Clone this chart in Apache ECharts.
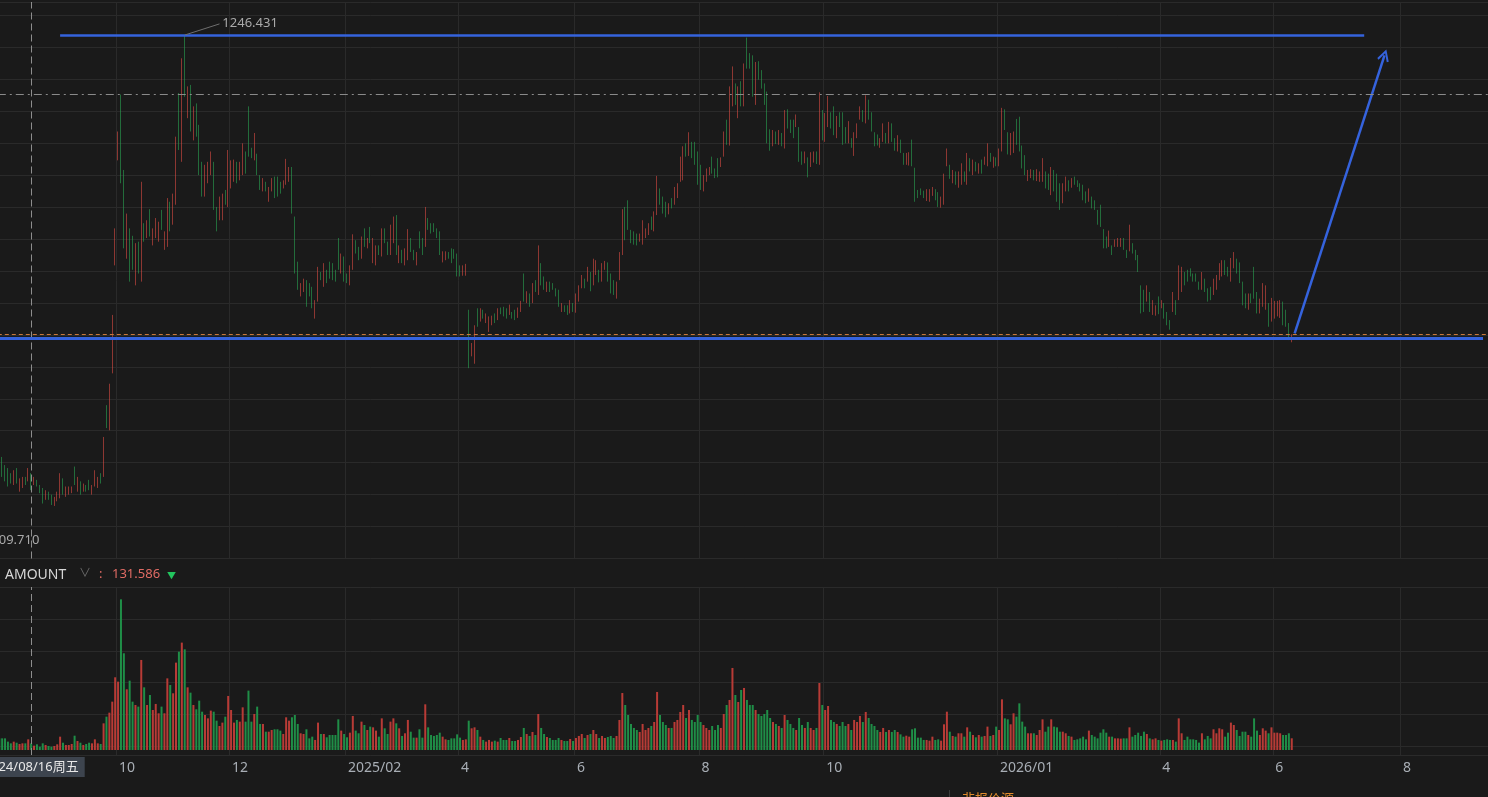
<!DOCTYPE html>
<html>
<head>
<meta charset="utf-8">
<script src="https://cdn.jsdelivr.net/npm/echarts@6/dist/echarts.min.js"></script>
<style>
html,body{margin:0;padding:0;background:#1a1a1a;overflow:hidden;width:1488px;height:797px}
#c{position:absolute;left:-10px;top:0;width:1502px;height:797px}
</style>
</head>
<body>
<div id="c"></div>
<script>
// ---------- categories (trading days) ----------
const firstDay = '2024-08-01';
const lastDay = '2026-09-14';
const holidays = [
  '2024-09-16','2024-09-17','2024-10-01','2024-10-02','2024-10-03','2024-10-04','2024-10-07',
  '2025-01-01','2025-01-28','2025-01-29','2025-01-30','2025-01-31','2025-02-03','2025-02-04',
  '2025-04-04','2025-05-01','2025-05-02','2025-05-05','2025-06-02',
  '2025-10-01','2025-10-02','2025-10-03','2025-10-06','2025-10-07','2025-10-08',
  '2026-01-01','2026-01-02','2026-02-16','2026-02-17','2026-02-18','2026-02-19','2026-02-20','2026-02-23',
  '2026-04-06','2026-05-01','2026-05-04','2026-05-05','2026-06-19'
];
// ---------- tick labels ----------
const tickDates = ['2024-10-08','2024-12-02','2025-02-05','2025-04-01','2025-06-03','2025-08-01','2025-10-09','2026-01-05','2026-04-01','2026-06-01','2026-08-03'];
const tickLabels = ['10','12','2025/02','4','6','8','10','2026/01','4','6','8'];

// ---------- series values ----------
const opens = [
681,676,665,661,654,638,661,629,634,649,
643,654,638,645,638,634,618,629,625,609.71,
616,620,647,622,625,627,663,629,643,629,
638,645,625,636,634,654,649,746,712,789,
935,1077,1166,1064,944,985,975,908,967,913,
992,972,1011,962,972,967,1010,956,960,1021,
990,1017,1168,1075,1246.431,1134,1179,1104,1154,1125,
1075,1028,1046,1057,1075,1014,996,996,1037,1014,
1039,1048,1075,1050,1057,1089,1150,1094,1077,1086,
1057,1035,1048,1021,1035,1055,1055,1048,1039,1044,
1048,1068,1001,940,893,899,915,911,906,863,
886,926,906,929,940,938,929,972,924,947,
924,908,929,969,960,944,985,958,987,938,
935,962,947,985,967,949,965,1003,938,956,
935,942,972,956,935,981,972,960,999,992,
992,985,981,939,942,953,958,957,951,935,
921,921,875,812,802,877,859,875,857,845,
854,870,861,878,879,877,868,872,875,864,
872,924,884,897,884,915,895,938,920,899,
913,911,904,902,872,881,881,870,884,871,
886,904,917,913,926,908,922,929,913,929,
939,924,915,890,915,949,1014,1023,983,981,
978,967,963,972,976,1001,981,1003,1039,1028,
1021,1004,1026,1017,1026,1048,1050,1100,1083,1102,
1102,1089,1071,1035,1048,1057,1082,1066,1080,1068,
1082,1132,1097,1150,1181,1134,1184,1150,1243,1222,
1219,1152,1211,1199,1181,1170,1119,1096,1116,1098,
1114,1093,1146,1132,1132,1122,1122,1089,1073,1081,
1068,1074,1089,1071,1145,1102,1122,1142,1150,1107,
1142,1142,1122,1100,1107,1083,1107,1132,1145,1127,
1159,1142,1115,1112,1094,1102,1114,1100,1127,1107,
1089,1105,1087,1071,1070,1105,1067,1037,1039,1036,
1022,1021,1029,1038,1034,1013,1017,1069,1071,1046,
1062,1040,1044,1062,1044,1080,1057,1075,1059,1078,
1071,1069,1087,1067,1081,1069,1089,1146,1115,1084,
1087,1133,1136,1097,1084,1049,1053,1064,1049,1048,
1048,1062,1059,1030,1064,1059,1046,1019,1035,1050,
1040,1055,1050,1046,1044,1035,1021,1028,1023,1010,
1017,984,974,960,962,960,960,960,972,956,
954,965,956,949,908,902,886,899,868,867,
893,877,884,872,861,872,888,888,899,926,
929,931,924,924,913,902,917,904,906,895,
902,915,920,942,933,913,931,944,939,913,
897,875,897,933,899,870,879,875,884,859,
863,866,864,886,875,857,831
];
const closes = [
658,649,643,636,640,658,640,647,649,638,
661,631,649,636,627,613,631,618,611,622,
629,654,625,636,636,636,638,649,625,640,
629,631,638,658,649,640,703,715,775,868,
985,1116,1046,958,1005,913,929,965,924,1048,
967,996,974,985,999,994,983,981,1026,981,
1032,1109,1091,1215,1163,1177,1116,1150,1109,1057,
1028,1071,1075,1089,1010,981,1028,1032,1017,1091,
1077,1078,1046,1075,1100,1059,1082,1080,1114,1057,
1037,1053,1035,1041,1053,1026,1028,1032,1050,1079,
1068,1005,924,902,911,917,879,893,877,888,
933,915,938,911,917,915,913,929,951,913,
911,935,977,951,942,974,960,972,965,972,
962,949,985,965,949,990,1001,949,962,938,
958,984,953,942,953,958,949,1014,983,978,
980,972,949,954,954,944,938,944,920,920,
935,937,796,830,854,852,877,863,870,866,
867,857,877,869,866,863,882,863,861,878,
887,886,900,879,911,899,962,908,902,913,
899,902,893,879,884,872,868,888,872,897,
908,922,904,933,900,944,942,912,938,941,
913,897,895,913,953,1011,969,983,965,963,
962,978,996,985,992,983,1008,1056,1017,1005,
1000,1019,1012,1041,1046,1082,1096,1082,1115,1080,
1071,1044,1037,1057,1066,1068,1059,1053,1054,1081,
1116,1098,1177,1204,1152,1177,1150,1208,1201,1201,
1163,1210,1186,1174,1152,1100,1090,1118,1099,1118,
1096,1145,1120,1114,1107,1139,1075,1071,1089,1054,
1088,1089,1072,1169,1104,1141,1164,1120,1111,1137,
1122,1098,1100,1130,1094,1115,1127,1150,1129,1165,
1132,1116,1096,1097,1107,1127,1100,1129,1102,1090,
1111,1087,1071,1087,1088,1069,1021,1026,1030,1026,
1038,1038,1041,1023,1014,1028,1059,1093,1052,1064,
1044,1062,1073,1048,1087,1062,1078,1062,1073,1059,
1082,1100,1075,1082,1069,1093,1148,1118,1085,1114,
1116,1098,1089,1066,1057,1064,1065,1050,1065,1062,
1080,1039,1037,1068,1035,1021,1010,1046,1055,1035,
1053,1044,1041,1035,1023,1019,1039,1012,1010,990,
987,958,958,982,949,970,972,972,956,945,
990,951,942,926,870,872,908,872,888,881,
869,888,863,854,848,899,868,935,933,908,
913,920,913,913,902,926,899,886,888,917,
922,938,942,922,920,945,953,924,911,881,
877,897,884,890,870,890,911,908,852,891,
887,887,888,854,852,834,842
];
const amounts = [
131,131,131,94,75,94,82,68,75,75,
120,75,49,64,37,75,56,45,37,45,
64,150,82,56,56,68,161,101,82,56,
68,82,75,120,75,68,300,375,420,544,
818,769,1695,1088,683,780,544,506,488,1013,
705,506,619,450,518,413,488,413,806,731,
638,983,1106,1208,1133,705,645,506,458,555,
431,394,356,443,431,330,270,308,375,608,
450,308,338,319,480,319,668,319,405,488,
293,293,206,206,225,233,233,218,180,368,
330,368,394,293,188,180,233,131,150,113,
308,180,180,143,169,169,169,345,218,180,
143,195,383,218,188,319,281,225,263,255,
218,150,356,244,180,319,356,300,244,158,
188,338,206,139,139,233,139,514,255,169,
158,169,195,150,120,113,131,131,176,139,
113,120,330,244,255,225,150,113,94,113,
94,105,94,135,113,113,135,101,101,113,
146,248,180,158,203,169,405,248,180,146,
135,113,113,135,113,101,101,124,101,135,
158,180,135,169,180,225,180,135,158,135,
146,158,135,158,338,641,506,394,293,248,
225,203,293,225,248,270,315,653,394,315,
281,248,248,315,338,428,506,360,450,338,
315,394,315,281,248,225,270,225,281,248,
405,506,563,923,619,540,675,698,563,506,
506,450,405,383,405,450,360,315,293,270,
248,394,338,293,248,225,360,281,248,315,
248,225,248,754,506,450,495,338,315,293,
270,315,270,293,225,338,315,383,315,428,
360,293,270,225,203,248,203,225,203,225,
203,176,150,161,150,233,244,139,139,113,
113,105,150,113,120,105,289,431,206,158,
150,188,188,150,255,206,169,143,169,150,
158,263,158,169,263,225,570,356,345,289,
413,375,525,319,263,188,188,188,169,225,
345,206,263,345,263,255,206,206,188,158,
150,113,120,131,150,120,218,169,150,131,
195,233,195,150,150,131,131,128,131,131,
255,150,169,195,158,206,180,131,120,131,
113,105,113,120,113,113,94,356,188,113,
150,120,120,113,83,188,120,158,131,233,
188,244,233,150,195,308,281,225,158,206,
206,169,150,356,218,169,244,218,188,255,
195,195,188,169,169,188,131.586
];

// ---------- annotations (data coordinates) ----------
const crossDate = '2024-08-16';
const resistance = {from: '2024-08-30', to: '2026-07-15', price: 1246.431};
const support = {from: '2024-08-01', to: '2026-09-10', price: 836.3};
const arrowLine = {from: ['2026-06-10', 843], to: ['2026-07-24', 1219]};
const guideLevel = 1166.3;
const peakNote = {at: ['2024-11-08', 1246.431], tail: ['2024-11-26', 1261.5], text: '1246.431'};
const lowNote = {at: ['2024-08-28', 609.71], text: '609.710'};

// ---------- build ----------
function tradingDays(start, end, hol) {
  const hs = new Set(hol), out = [];
  const d = new Date(start + 'T00:00:00Z'), e = new Date(end + 'T00:00:00Z');
  while (d <= e) {
    const wd = d.getUTCDay(), s = d.toISOString().slice(0, 10);
    if (wd !== 0 && wd !== 6 && !hs.has(s)) out.push(s);
    d.setUTCDate(d.getUTCDate() + 1);
  }
  return out;
}
const dates = tradingDays(firstDay, lastDay, holidays);
const tickMap = {};
tickDates.forEach((d, i) => { tickMap[d] = tickLabels[i]; });
const isTick = (idx, val) => tickMap[val] !== undefined;

const UP = '#dc4b43', DOWN = '#2aa553', VUP = '#b83b36', VDOWN = '#1f8e47';
const GRID = '#2a2a2a', BLUE = '#3563dd';
const FONT = '"Noto Sans", "Noto Sans CJK SC", sans-serif';

const candles = opens.map((o, i) => [o, closes[i], Math.min(o, closes[i]), Math.max(o, closes[i])]);
const volData = amounts.map((v, i) => ({value: v, itemStyle: {color: closes[i] >= opens[i] ? VUP : VDOWN}}));
const lastAmount = amounts[amounts.length - 1];
const lastClose = closes[closes.length - 1];
const wk = ['周日','周一','周二','周三','周四','周五','周六'][new Date(crossDate + 'T00:00:00Z').getUTCDay()];
const crossText = crossDate.replace(/-/g, '/') + wk;
const crossStyle = {color: '#8e8e8e', width: 1, type: [7, 4]};

// the canvas is shifted 10px left of the page so the first candle can sit at the page edge
const shift = 10;
const bandPx = 2.898;
const gridLeft = shift - 2.2;
const gridWidth = dates.length * bandPx;

const chart = echarts.init(document.getElementById('c'));
const option = {
  backgroundColor: '#1a1a1a',
  animation: false,
  textStyle: {fontFamily: FONT},
  grid: [
    {left: gridLeft, top: 2, width: gridWidth, height: 556.5, outerBoundsMode: 'none'},
    {left: gridLeft, top: 587, width: gridWidth, height: 168, outerBoundsMode: 'none'}
  ],
  xAxis: [
    {
      type: 'category', gridIndex: 0, data: dates, boundaryGap: true,
      axisLine: {show: false}, axisTick: {show: false}, axisLabel: {show: false},
      splitLine: {show: true, interval: isTick, lineStyle: {color: GRID, width: 1}}
    },
    {
      type: 'category', gridIndex: 1, data: dates, boundaryGap: true,
      axisLine: {show: true, onZero: false, lineStyle: {color: GRID}},
      axisTick: {show: false},
      axisLabel: {
        show: true, interval: isTick, formatter: v => tickMap[v] || '',
        color: '#a8aeb5', fontSize: 14, fontFamily: FONT, align: 'left', margin: 6, padding: [0, 0, 0, 1]
      },
      splitLine: {show: true, interval: isTick, lineStyle: {color: GRID, width: 1}}
    }
  ],
  yAxis: [
    {type: 'value', gridIndex: 0, min: 538.66, max: 1291.1, show: false, scale: true},
    {
      type: 'value', gridIndex: 0, min: 0, max: 17.4227, interval: 1,
      axisLabel: {show: false}, axisLine: {show: false}, axisTick: {show: false},
      splitLine: {show: true, lineStyle: {color: GRID, width: 1}}
    },
    {type: 'value', gridIndex: 1, min: -56.25, max: 1833.75, show: false},
    {
      type: 'value', gridIndex: 1, inverse: true, min: 0, max: 5.266, interval: 1,
      axisLabel: {show: false}, axisLine: {show: false}, axisTick: {show: false},
      splitLine: {show: true, lineStyle: {color: GRID, width: 1}}
    }
  ],
  series: [
    {
      type: 'candlestick', name: 'K', xAxisIndex: 0, yAxisIndex: 0, data: candles,
      barWidth: 1,
      itemStyle: {color: UP, color0: DOWN, borderColor: UP, borderColor0: DOWN, borderWidth: 0.6},
      markLine: {
        silent: true, symbol: ['none', 'none'], animation: false,
        label: {show: false},
        data: [
          {xAxis: crossDate, lineStyle: crossStyle},
          [{coord: [resistance.from, resistance.price], lineStyle: {color: BLUE, width: 2.5, type: 'solid'}},
           {coord: [resistance.to, resistance.price]}],
          [{coord: [support.from, support.price], lineStyle: {color: BLUE, width: 3, type: 'solid'}},
           {coord: [support.to, support.price]}],
          [{coord: arrowLine.from, symbol: 'none', lineStyle: {color: BLUE, width: 2.5, type: 'solid'}},
           {coord: arrowLine.to, symbol: 'path://M5,0 L10,9 L8.6,10 L5,3.2 L1.4,10 L0,9 Z', symbolSize: [12, 12]}],
          {yAxis: lastClose, lineStyle: {color: '#c8783c', width: 1, type: [4, 3]}},
          {yAxis: guideLevel, lineStyle: {color: '#8a8a8a', width: 1, type: [8, 4, 2, 4]}},
          [{coord: peakNote.at, lineStyle: {color: '#6e6e6e', width: 1, type: 'solid'},
            label: {show: true, position: 'end', formatter: peakNote.text, color: '#a9a9a9', fontSize: 13, fontFamily: FONT, distance: 3}},
           {coord: peakNote.tail}]
        ]
      },
      markPoint: {
        silent: true, animation: false,
        symbol: 'circle', symbolSize: 1, itemStyle: {color: 'rgba(0,0,0,0)'},
        data: [{
          coord: lowNote.at,
          label: {show: true, formatter: lowNote.text, position: 'inside', offset: [-39, 34],
                  color: '#a9a9a9', fontSize: 13, fontFamily: FONT}
        }]
      }
    },
    {
      type: 'bar', name: 'AMOUNT', xAxisIndex: 1, yAxisIndex: 2, data: volData, barWidth: 2,
      markLine: {
        silent: true, symbol: ['none', 'none'], animation: false,
        data: [{
          xAxis: crossDate, lineStyle: crossStyle,
          label: {
            show: true, position: 'start', formatter: crossText, backgroundColor: '#3d444e',
            color: '#e8e8e8', fontSize: 13, fontFamily: FONT, padding: [4, 6, 3, 6], distance: 2
          }
        }]
      }
    }
  ],
  graphic: [
    {type: 'text', left: shift + 5, top: 568, style: {text: 'AMOUNT', fill: '#d6d6d6', font: '14px ' + FONT}},
    {type: 'text', left: shift + 79, top: 568, style: {text: '∨', fill: '#6a6a6a', font: '12px ' + FONT}},
    {type: 'text', left: shift + 99, top: 568, style: {text: ':', fill: '#e06b64', font: '13px ' + FONT}},
    {type: 'text', left: shift + 112, top: 568, style: {text: lastAmount.toFixed(3), fill: '#e06b64', font: '13px ' + FONT}},
    {type: 'text', left: shift + 167, top: 572, style: {text: '▼', fill: '#22c55e', font: '9px ' + FONT}},
    {type: 'line', shape: {x1: shift + 949.5, y1: 790, x2: shift + 949.5, y2: 797}, style: {stroke: '#3a3a3a', lineWidth: 1}},
    {type: 'text', left: shift + 962, top: 792, style: {text: '非报价源', fill: '#e08a2c', font: '13px "Noto Sans CJK SC"'}}
  ]
};
chart.setOption(option);
</script>
</body>
</html>
